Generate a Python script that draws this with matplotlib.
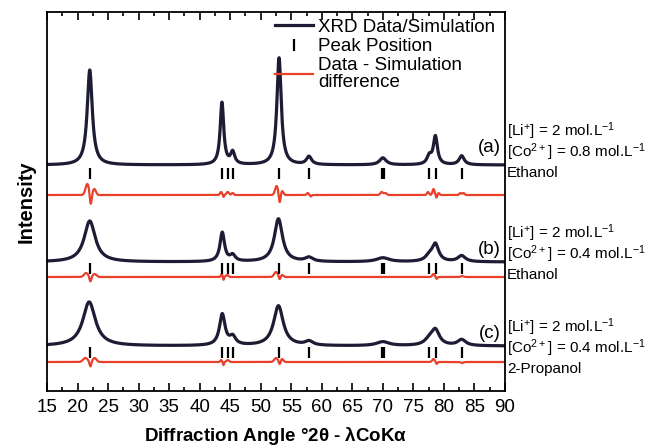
import numpy as np
import matplotlib.pyplot as plt
from matplotlib.lines import Line2D
from matplotlib.ticker import MultipleLocator

plt.rcParams.update({'font.size': 12})
plt.rcParams['font.family'] = ['Liberation Sans', 'DejaVu Sans']
plt.rcParams['mathtext.default'] = 'regular'

# angle grid (deg 2theta)
two_theta = np.linspace(15, 90, 3001)

# peak positions (tick marks), same for all three samples
tick_pos = [22.0, 43.65, 44.6, 45.45, 52.95, 57.9, 69.8, 70.25, 77.6, 78.65, 82.9]

# XRD peaks: (centre, height above background, fwhm)
peaks_a = [(22.0, 95, 1.0), (43.65, 62, 0.7), (45.4, 12, 0.8), (53.0, 107, 0.85),
           (57.9, 8, 1.0), (70.0, 7, 1.3), (77.6, 8, 0.9), (78.6, 28, 0.8), (82.9, 9, 1.0)]
peaks_b = [(22.0, 41, 2.2), (43.7, 29, 0.9), (45.4, 6, 1.0), (52.9, 43, 1.6),
           (57.9, 4, 1.5), (70.0, 4, 2.5), (77.6, 5, 1.5), (78.6, 17, 1.3), (82.9, 6, 1.5)]
peaks_c = [(21.9, 44, 2.5), (43.7, 31, 1.1), (45.4, 8, 1.2), (52.9, 40, 1.9),
           (57.9, 4, 1.5), (70.0, 4, 2.5), (77.6, 5, 1.8), (78.6, 15, 1.6), (82.9, 6, 1.6)]
background = {'a': 226, 'b': 129, 'c': 45}

# residual (data - simulation) features: (centre, amplitude, width)
diff_a = [(21.6, 11, 0.7), (22.15, -11, 0.35), (22.75, 6, 0.6),
          (43.5, 3, 0.4), (43.9, -2, 0.2), (44.6, 3, 0.5), (45.4, 2, 0.4),
          (52.6, 9, 0.6), (53.1, -9, 0.35), (53.5, 4, 0.5),
          (57.7, 2, 0.4), (58.2, -1.5, 0.3), (69.8, 3, 0.5), (70.4, 2, 0.5),
          (77.4, 3, 0.4), (78.3, 6, 0.4), (78.8, -3, 0.3), (79.1, 2, 0.4),
          (82.7, 2, 0.4), (83.2, 2, 0.4)]
diff_b = [(21.4, 4, 0.8), (22.1, -5, 0.35), (22.8, 3, 0.7),
          (43.6, 3, 0.3), (43.9, -3, 0.2), (44.5, 2, 0.5),
          (52.5, 5, 0.7), (53.1, -3, 0.3), (53.5, 2, 0.5),
          (78.3, 3, 0.5), (78.8, -2, 0.3), (83.0, 1, 0.5)]
diff_c = [(21.3, 4, 0.9), (22.1, -5, 0.35), (22.8, 4, 0.7),
          (43.5, 2, 0.3), (43.9, -3, 0.2), (44.6, 2, 0.5),
          (52.5, 4, 0.7), (53.1, -3, 0.3), (53.5, 3, 0.5),
          (78.3, 3, 0.5), (78.8, -2, 0.3), (83.0, -1, 0.5)]
diff_base = {'a': 196, 'b': 114, 'c': 29}

# tick-mark vertical ranges
tick_span = {'a': (212, 223), 'b': (117, 128), 'c': (33, 44)}

labels = {'a': '(a)', 'b': '(b)', 'c': '(c)'}
label_y = {'a': 243, 'b': 141, 'c': 58}
conditions = {
    'a': [r'[Li$^{+}$] = 2 mol.L$^{-1}$', r'[Co$^{2+}$] = 0.8 mol.L$^{-1}$', 'Ethanol'],
    'b': [r'[Li$^{+}$] = 2 mol.L$^{-1}$', r'[Co$^{2+}$] = 0.4 mol.L$^{-1}$', 'Ethanol'],
    'c': [r'[Li$^{+}$] = 2 mol.L$^{-1}$', r'[Co$^{2+}$] = 0.4 mol.L$^{-1}$', '2-Propanol'],
}
cond_y = {'a': 131, 'b': 233, 'c': 327}  # pixel rows of first line


def lorentz_sum(x, peaks):
    y = np.zeros_like(x)
    for c, h, w in peaks:
        y += h / (1 + ((x - c) / (w / 2)) ** 2)
    return y


def gauss_sum(x, feats):
    y = np.zeros_like(x)
    for c, h, w in feats:
        y += h * np.exp(-0.5 * ((x - c) / (w / 2.355)) ** 2)
    return y


black = '#1c1c34'
red = '#e8402a'

fig = plt.figure(figsize=(6.52, 4.48), dpi=100)
ax = fig.add_axes([47 / 652, 57 / 448, 458 / 652, 379 / 448])

for key, pk, df in [('a', peaks_a, diff_a), ('b', peaks_b, diff_b), ('c', peaks_c, diff_c)]:
    ax.plot(two_theta, background[key] + lorentz_sum(two_theta, pk), color=black, lw=2.3)
    ax.plot(two_theta, diff_base[key] + gauss_sum(two_theta, df), color=red, lw=1.6)
    lo, hi = tick_span[key]
    ax.vlines(tick_pos, lo, hi, color='k', lw=1.6)
    ax.text(87.5, label_y[key], labels[key], fontsize=13.5, ha='center', va='center')
    for i, line in enumerate(conditions[key]):
        fig.text(507 / 652, 1 - (cond_y[key] + 21 * i) / 448, line, fontsize=11,
                 ha='left', va='center')

ax.set_xlim(15, 90)
ax.set_ylim(0, 379)
ax.set_yticks([])
ax.xaxis.set_major_locator(MultipleLocator(5))
ax.xaxis.set_minor_locator(MultipleLocator(2.5))
ax.tick_params(axis='x', which='both', direction='in', top=True, labelsize=13.5, pad=6)
ax.tick_params(axis='x', which='major', length=6, width=1.2)
ax.tick_params(axis='x', which='minor', length=3, width=1.2)
for s in ax.spines.values():
    s.set_linewidth(1.3)
ax.set_xlabel(r'Diffraction Angle °2$\theta$ - $\lambda$CoK$\alpha$', fontsize=13.5,
              fontweight='bold', labelpad=6)
ax.set_ylabel('Intensity', fontsize=14.5, fontweight='bold', labelpad=8)

handles = [Line2D([], [], color=black, lw=2.3),
           Line2D([], [], color='k', marker='|', ls='none', ms=9, mew=1.6),
           Line2D([], [], color=red, lw=1.6)]
leg = ax.legend(handles, ['XRD Data/Simulation', 'Peak Position', 'Data - Simulation\ndifference'],
                loc='upper right', bbox_to_anchor=(1 - 6 / 458, 1 - 3 / 379), frameon=False,
                fontsize=13.5, handlelength=2.0, handletextpad=0.3, labelspacing=0.12,
                borderpad=0.2, borderaxespad=0.0)
leg.get_texts()[2].set_linespacing(1.0)

fig.savefig('out.png', dpi=100)
